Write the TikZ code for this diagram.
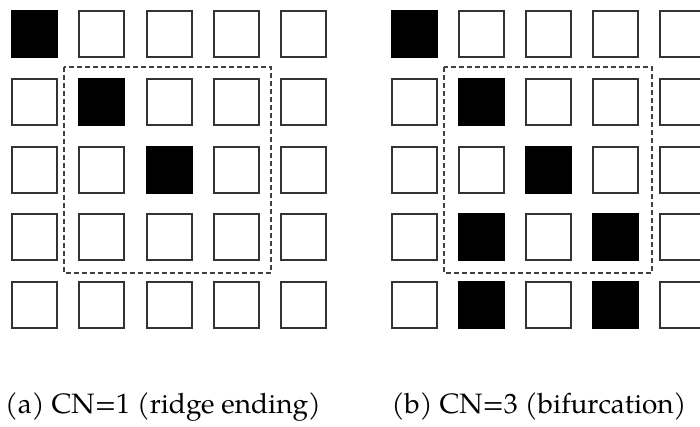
\documentclass[tikz,border=0pt]{standalone}
\usepackage{fontspec}
\setmainfont{TeX Gyre Pagella}
\usetikzlibrary{positioning}
\begin{document}
\begin{tikzpicture}[x=1pt,y=-1pt]
\tikzset{cell/.style={draw=black!80,line width=2pt,minimum width=45pt,minimum height=46pt,inner sep=0pt,fill=white},
  window/.style={draw=black!75,line width=2.2pt,dash pattern=on 5pt off 3pt},
  caption/.style={anchor=base,font=\fontsize{28}{32}\selectfont}}
\useasboundingbox (0,0) rectangle (700,427);
% left grid: ridge ending
\foreach \r in {1,...,5}
  \foreach \c in {1,...,5}
    \node[cell] (a\r\c) at ({34.5+67.3*(\c-1)},{34.5+67.6*(\r-1)}) {};
\foreach \n in {a11,a22,a33}
  \fill (\n.south west) rectangle (\n.north east);
\draw[window] (64,67) rectangle (271,273);
% right grid: bifurcation
\foreach \r in {1,...,5}
  \foreach \c in {1,...,5}
    \node[cell] (b\r\c) at ({414+67*(\c-1)},{34.5+67.6*(\r-1)}) {};
\foreach \n in {b11,b22,b33,b42,b44,b52,b54}
  \fill (\n.south west) rectangle (\n.north east);
\draw[window] (444,67) rectangle (652,273);
% captions
\node[caption] (capa) at (163,413) {(a) CN=1 (ridge ending)};
\node[caption] (capb) at (539,413) {(b) CN=3 (bifurcation)};
\end{tikzpicture}
\end{document}
